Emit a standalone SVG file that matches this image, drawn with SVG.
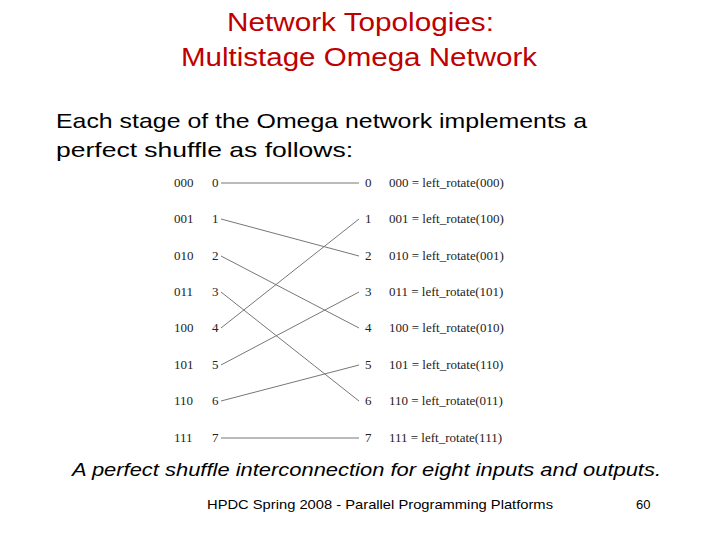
<svg xmlns="http://www.w3.org/2000/svg" width="720" height="540" viewBox="0 0 720 540">
<style>
.t{font-family:"Liberation Sans",sans-serif;fill:#c00000;font-size:25px}
.b{font-family:"Liberation Sans",sans-serif;fill:#000;font-size:21px}
.f{font-family:"Liberation Serif",serif;fill:#222;font-size:13px}
.l{stroke:#777;stroke-width:1;fill:none}
.s{font-family:"Liberation Sans",sans-serif;font-size:13px;fill:#000}
</style>
<rect width="720" height="540" fill="#fff"/>
<g id="title"><text class="t" x="227" y="31" textLength="267" lengthAdjust="spacingAndGlyphs">Network Topologies:</text><text class="t" x="181" y="66" textLength="356" lengthAdjust="spacingAndGlyphs">Multistage Omega Network</text></g>
<g id="body"><text class="b" x="56" y="128" textLength="531" lengthAdjust="spacingAndGlyphs">Each stage of the Omega network implements a</text>
<text class="b" x="56" y="157" textLength="297" lengthAdjust="spacingAndGlyphs">perfect shuffle as follows:</text></g>
<g id="connectors">
<line class="l" x1="221" y1="183" x2="359" y2="183"/>
<line class="l" x1="221" y1="219" x2="359" y2="256"/>
<line class="l" x1="221" y1="256" x2="359" y2="328"/>
<line class="l" x1="221" y1="292" x2="359" y2="401"/>
<line class="l" x1="221" y1="328" x2="359" y2="219"/>
<line class="l" x1="221" y1="365" x2="359" y2="292"/>
<line class="l" x1="221" y1="401" x2="359" y2="365"/>
<line class="l" x1="221" y1="438" x2="359" y2="438"/>
</g>
<g id="left" class="f">
<text x="174" y="187">000</text><text x="212" y="187">0</text>
<text x="174" y="223">001</text><text x="212" y="223">1</text>
<text x="174" y="260">010</text><text x="212" y="260">2</text>
<text x="174" y="296">011</text><text x="212" y="296">3</text>
<text x="174" y="332">100</text><text x="212" y="332">4</text>
<text x="174" y="369">101</text><text x="212" y="369">5</text>
<text x="174" y="405">110</text><text x="212" y="405">6</text>
<text x="174" y="442">111</text><text x="212" y="442">7</text>
</g>
<g id="right" class="f">
<text x="365" y="187">0</text><text x="389" y="187">000 = left_rotate(000)</text>
<text x="365" y="223">1</text><text x="389" y="223">001 = left_rotate(100)</text>
<text x="365" y="260">2</text><text x="389" y="260">010 = left_rotate(001)</text>
<text x="365" y="296">3</text><text x="389" y="296">011 = left_rotate(101)</text>
<text x="365" y="332">4</text><text x="389" y="332">100 = left_rotate(010)</text>
<text x="365" y="369">5</text><text x="389" y="369">101 = left_rotate(110)</text>
<text x="365" y="405">6</text><text x="389" y="405">110 = left_rotate(011)</text>
<text x="365" y="442">7</text><text x="389" y="442">111 = left_rotate(111)</text>
</g>
<g id="caption"><text x="72" y="476" font-family="Liberation Sans,sans-serif" font-size="18" font-style="italic" textLength="589" lengthAdjust="spacingAndGlyphs">A perfect shuffle interconnection for eight inputs and outputs.</text></g>
<g id="footer"><text class="s" x="207" y="509" textLength="346" lengthAdjust="spacingAndGlyphs">HPDC Spring 2008 -  Parallel Programming Platforms</text><text class="s" x="636" y="509">60</text></g>
</svg>
